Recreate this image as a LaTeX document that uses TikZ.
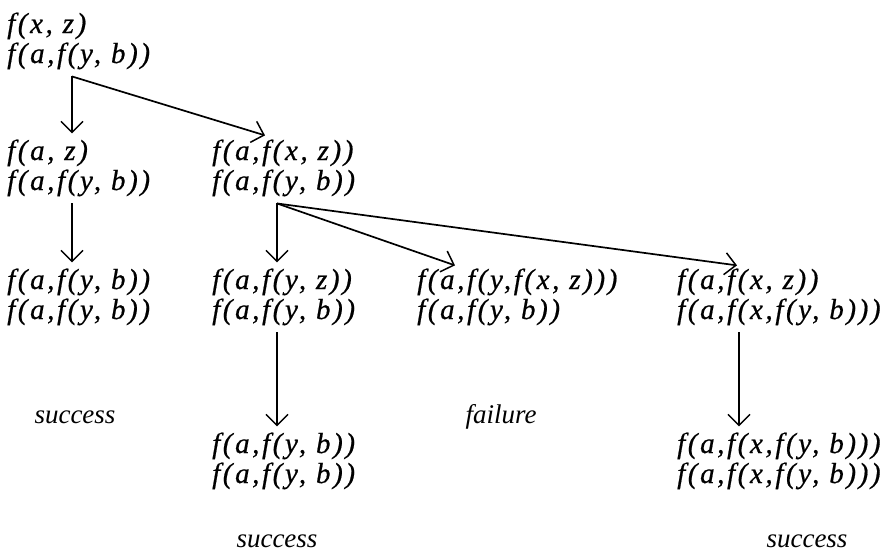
\documentclass[tikz,border=0pt]{standalone}
\usepackage{fontspec}
\setmainfont{Liberation Serif}
\newfontfamily\formfont[LetterSpace=9,FakeBold=0.6]{Liberation Serif}
\usetikzlibrary{arrows.meta}

\tikzset{
  term/.style={font=\formfont\itshape\fontsize{29}{30}\selectfont, align=left, inner sep=0pt, anchor=base west},
  verdict/.style={font=\itshape\fontsize{27}{30}\selectfont, inner sep=0pt, anchor=base},
  step arrow/.style={line width=1.7pt, -{Straight Barb[length=11pt,width=22pt,line width=1.5pt]}}
}

\begin{document}
\begin{tikzpicture}[x=1pt,y=-1pt]
\useasboundingbox (0,0) rectangle (889,554);
% goals (anchored at the baseline of the lower line)
\node[term] (root) at (7,63) {f(x, z)\\f(a,f(y, b))};
\node[term] (left2) at (7,190) {f(a, z)\\f(a,f(y, b))};
\node[term] (mid2) at (212,190) {f(a,f(x, z))\\f(a,f(y, b))};
\node[term] (left3) at (7,319) {f(a,f(y, b))\\f(a,f(y, b))};
\node[term] (mid3) at (212,319) {f(a,f(y, z))\\f(a,f(y, b))};
\node[term] (fail3) at (417,319) {f(a,f(y,f(x, z)))\\f(a,f(y, b))};
\node[term] (right3) at (677,319) {f(a,f(x, z))\\f(a,f(x,f(y, b)))};
\node[term] (mid4) at (212,483) {f(a,f(y, b))\\f(a,f(y, b))};
\node[term] (right4) at (677,483) {f(a,f(x,f(y, b)))\\f(a,f(x,f(y, b)))};
% outcomes
\node[verdict] (ok1) at (75,423) {success};
\node[verdict] (bad) at (501,423) {failure};
\node[verdict] (ok2) at (277,547) {success};
\node[verdict] (ok3) at (807,547) {success};
% steps (y grows downwards here)
\draw[step arrow] ([shift={(65,7)}]root.south west) -- ([shift={(65,-6)}]left2.north west);
\draw[step arrow] ([shift={(65,7)}]root.south west) -- ([shift={(53,-4)}]mid2.north west);
\draw[step arrow] ([shift={(65,7)}]left2.south west) -- ([shift={(65,-6)}]left3.north west);
\draw[step arrow] ([shift={(65,7)}]mid2.south west) -- ([shift={(65,-6)}]mid3.north west);
\draw[step arrow] ([shift={(65,7)}]mid2.south west) -- ([shift={(38,-3)}]fail3.north west);
\draw[step arrow] ([shift={(65,7)}]mid2.south west) -- ([shift={(60,-3)}]right3.north west);
\draw[step arrow] ([shift={(65,7)}]mid3.south west) -- ([shift={(65,-6)}]mid4.north west);
\draw[step arrow] ([shift={(62,7)}]right3.south west) -- ([shift={(62,-6)}]right4.north west);
\end{tikzpicture}
\end{document}
